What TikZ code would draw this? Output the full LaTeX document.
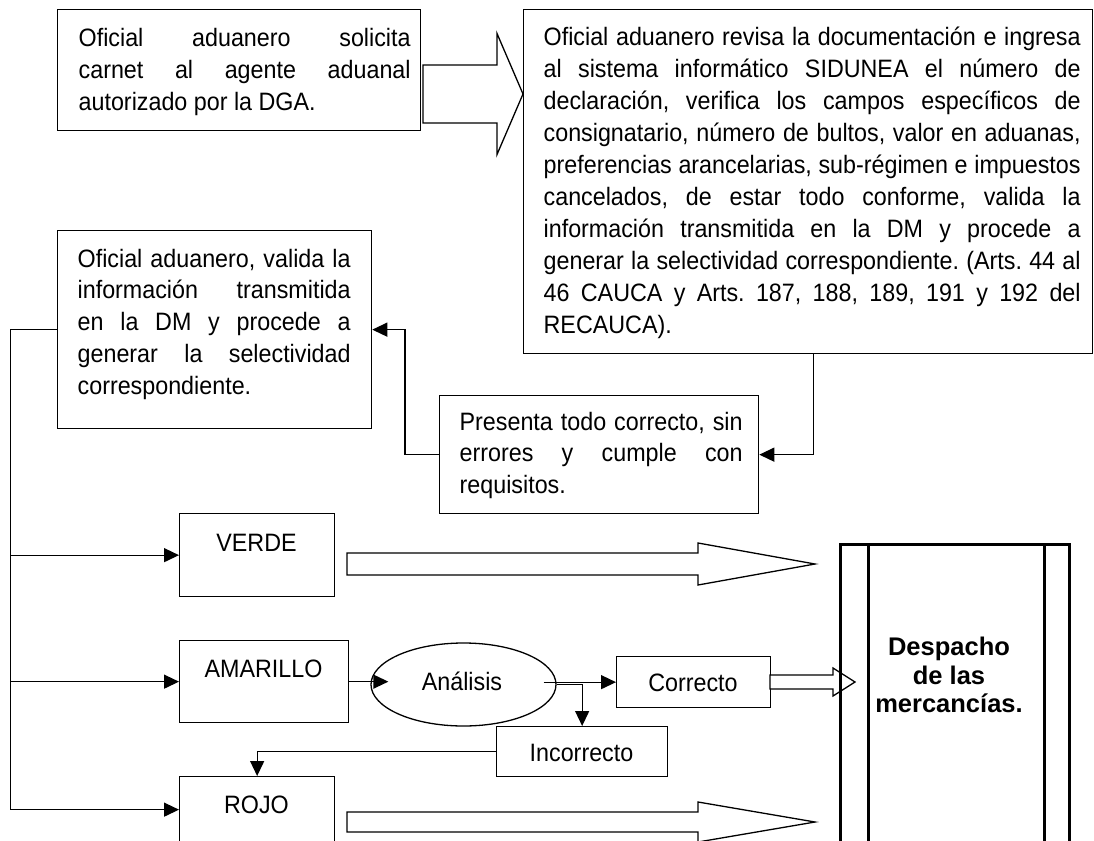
\documentclass[tikz,border=0pt]{standalone}
\usepackage{fontspec}
\setmainfont{Liberation Sans}
\usepackage{graphicx}
\usetikzlibrary{arrows.meta,shapes.geometric,calc}
\frenchspacing
\newcommand\ys{1.08}
\newcommand\jtext[2]{\scalebox{1}[\ys]{\parbox[t]{#1}{#2}}}
\newcommand\ltext[1]{\scalebox{1}[\ys]{#1}}
\newcommand\barrow[6]{\draw[hollow] (#1,#4-#5) -- (#3,#4-#5) -- (#3,#4-#6) -- (#2,#4) -- (#3,#4+#6) -- (#3,#4+#5) -- (#1,#4+#5) -- cycle;}
\begin{document}
\begin{tikzpicture}[x=1pt,y=-1pt, line width=1.3pt,
  font=\fontsize{23.3pt}{29.6pt}\selectfont,
  box/.style={draw, inner sep=0pt, anchor=north west},
  txt/.style={inner sep=0pt, anchor=base west},
  lbl/.style={inner sep=0pt, anchor=base},
  arr/.style={-{Triangle[length=15pt,width=14pt]}},
  hollow/.style={draw, fill=white, line join=miter}]
\useasboundingbox (0,0) rectangle (1094,840);
\fill[white] (0,0) rectangle (1094,840);

% top boxes
\node[box, minimum width=363pt, minimum height=121pt] (b1) at (57,9) {};
\node[txt] (b1t) at (78,47) {\jtext{332pt}{\frenchspacing Oficial aduanero solicita\linebreak carnet al agente aduanal\linebreak autorizado por la DGA.}};

\node[box, minimum width=569pt, minimum height=344pt] (big) at (523,9) {};
\node[txt] (bigt) at (543,46) {\jtext{537pt}{\frenchspacing Oficial aduanero revisa la documentación e ingresa\linebreak al sistema informático SIDUNEA el número de\linebreak declaración, verifica los campos específicos de\linebreak consignatario, número de bultos, valor en aduanas,\linebreak preferencias arancelarias, sub-régimen e impuestos\linebreak cancelados, de estar todo conforme, valida la\linebreak información transmitida en la DM y procede a\linebreak generar la selectividad correspondiente. (Arts. 44 al\linebreak 46 CAUCA y Arts. 187, 188, 189, 191 y 192 del\linebreak RECAUCA).}};

\barrow{423}{523}{497}{94}{29}{60.5}

\node[box, minimum width=314pt, minimum height=198pt] (valida) at (57,230) {};
\node[txt] (validat) at (77,267) {\jtext{273pt}{\frenchspacing Oficial aduanero, valida la\linebreak información transmitida\linebreak en la DM y procede a\linebreak generar la selectividad\linebreak correspondiente.}};

\node[box, minimum width=319pt, minimum height=118pt] (presenta) at (439,395) {};
\node[txt] (presentat) at (459,430) {\jtext{283pt}{\frenchspacing Presenta todo correcto, sin\linebreak errores y cumple con\linebreak requisitos.}};

% colour boxes
\node[box, minimum width=155pt, minimum height=83pt] (verde) at (179,513) {};
\node[lbl] (verdet) at (256.5,551) {\ltext{VERDE}};
\node[box, minimum width=169pt, minimum height=82pt] (amarillo) at (179,640) {};
\node[lbl] (amarillot) at (263.5,677) {\ltext{AMARILLO}};
\node[box, minimum width=155pt, minimum height=66pt] (rojo) at (179,776) {};
\node[lbl] (rojot) at (256.5,813) {\ltext{ROJO}};

\node[draw, ellipse, minimum width=185pt, minimum height=83pt, inner sep=0pt] (anal) at (463.5,684.5) {};
\node[lbl] (analt) at (462,690) {\ltext{Análisis}};
\node[box, minimum width=154pt, minimum height=51pt] (correcto) at (616,656) {};
\node[lbl] (correctot) at (693,691) {\ltext{Correcto}};
\node[box, minimum width=171pt, minimum height=50pt] (incorrecto) at (496,726) {};
\node[lbl] (incorrectot) at (581.5,761) {\ltext{Incorrecto}};

% connectors
\draw[arr] ([xshift=5pt]big.south) |- (presenta.east);
\draw[arr] (presenta.west) -- ++(-34,0) |- (valida.east);
\draw (valida.west) -- ++(-46.3,0) coordinate (tr) -- (tr |- rojo.west);
\draw[arr] (tr |- verde.west) -- (verde.west);
\draw[arr] (tr |- amarillo.west) -- (amarillo.west);
\draw[arr] (tr |- rojo.west) -- (rojo.west);
\coordinate (aw) at ([xshift=18pt]anal.west);
\coordinate (ae) at ([xshift=-13pt]anal.east);
\draw[arr] (amarillo.east) -- (aw |- amarillo.east);
\draw[arr] (ae |- correcto.west) -- (correcto.west);
\draw[arr] (anal.east) -| (incorrecto.north);
\draw[arr] (incorrecto.west) -| (rojo.north);

% block arrows
\barrow{347}{815}{698}{564}{11}{21}
\barrow{347}{815}{698}{822}{10}{20}
\barrow{770}{855}{833}{682}{7}{14}

% despacho
\node[box, line width=3pt, minimum width=229pt, minimum height=310pt] (desp) at (839,543) {};
\draw[line width=3pt] ([xshift=29pt]desp.north west) -- ([xshift=29pt]desp.south west);
\draw[line width=3pt] ([xshift=-27pt]desp.north east) -- ([xshift=-27pt]desp.south east);
\node[align=center, inner sep=0pt, font=\fontsize{25.5pt}{28.5pt}\selectfont\bfseries] (despt) at (949,675) {Despacho\\de las\\mercancías.};
\end{tikzpicture}
\end{document}
